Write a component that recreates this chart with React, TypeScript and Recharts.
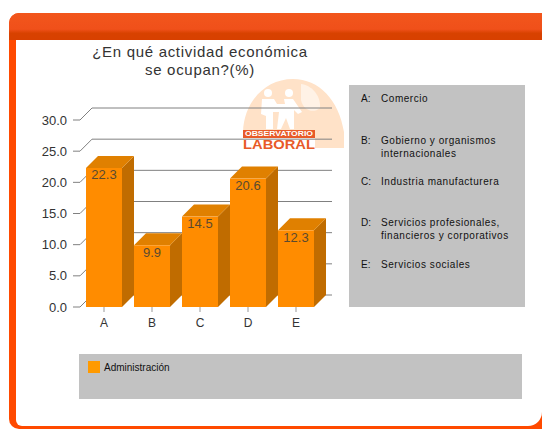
import { BarChart, Bar, XAxis, YAxis, CartesianGrid, LabelList, Legend } from "recharts";

const categories = ["A", "B", "C", "D", "E"];
const values = [22.3, 9.9, 14.5, 20.6, 12.3];
const seriesName = "Administración";
const yTicks = [0, 5, 10, 15, 20, 25, 30];
const titleLines = ["¿En qué actividad económica", "se ocupan?(%)"];
const notes = [
  { key: "A:", lines: ["Comercio"], top: 92 },
  { key: "B:", lines: ["Gobierno y organismos", "internacionales"], top: 134 },
  { key: "C:", lines: ["Industria manufacturera"], top: 175 },
  { key: "D:", lines: ["Servicios profesionales,", "financieros y corporativos"], top: 216 },
  { key: "E:", lines: ["Servicios sociales"], top: 258 },
];

const data = categories.map((c, i) => ({ name: c, value: values[i] }));

const DX = 12;
const DY = 12;
const FONT = "'Liberation Sans', Arial, sans-serif";

function Box3D({ x, y, width, height }: any) {
  return (
    <g>
      <path d={`M${x + width} ${y}l${DX} ${-DY}v${height}l${-DX} ${DY}z`} fill="#c06c00" />
      <path d={`M${x} ${y}l${DX} ${-DY}h${width}l${-DX} ${DY}z`} fill="#e08000" />
      <rect x={x} y={y} width={width} height={height} fill="#ff8c00" />
    </g>
  );
}

// gridline runs up the back wall, then across it
function BackLine({ x1, y1, x2 }: any) {
  return (
    <path
      d={`M${x1} ${y1}l${DX} ${-DY}H${x2 + DX}`}
      fill="none"
      stroke="#808080"
      strokeWidth={1}
    />
  );
}

function Logo() {
  return (
    <svg width={110} height={85} style={{ position: "absolute", left: 235, top: 70 }}>
      <path d="M8 62C9 32 30 9 58 9C84 9 104 30 109 62L109 78H80V60z" fill="#ffe2c8" />
      <path d="M66 14C76 15 86 25 85 38C78 44 68 40 66 30z" fill="#fff2e6" />
      <circle cx="33" cy="23" r="4" fill="#fff" />
      <circle cx="54" cy="23" r="4" fill="#fff" />
      <path d="M27 29h12l3 5h8l-1-5h9l9 13-4 2-4-4v19h-4l-4-11-5 11h-4l2-17h-6v17H31V46l-5-2z" fill="#fff" />
      <rect x="8" y="60" width="72" height="8" fill="#e85a28" />
      <text x="44" y="66.3" fontFamily={FONT} fontSize={8} fontWeight={700} fill="#fff" textAnchor="middle" textLength={68} lengthAdjust="spacingAndGlyphs">
        OBSERVATORIO
      </text>
      <text x="44" y="79" fontFamily={FONT} fontSize={12} fontWeight={700} fill="#e85a28" textAnchor="middle" textLength={72} lengthAdjust="spacingAndGlyphs">
        LABORAL
      </text>
    </svg>
  );
}

function LegendRow() {
  return (
    <div style={{ display: "flex", alignItems: "center", fontFamily: FONT, fontSize: 10, color: "#111" }}>
      <span style={{ width: 12, height: 12, background: "#ff9a00", marginRight: 4 }} />
      {seriesName}
    </div>
  );
}

export default function App() {
  return (
    <div style={{ position: "fixed", left: 0, top: 0, width: 542, height: 430, overflow: "hidden", background: "#fff" }}>
      {/* frame */}
      <div style={{ position: "absolute", left: 9, top: 13, width: 580, height: 416, borderRadius: 10, background: "#ff4a00" }} />
      <div
        style={{
          position: "absolute",
          left: 9,
          top: 13,
          width: 580,
          height: 27,
          borderRadius: "10px 10px 0 0",
          background: "linear-gradient(#f2561c 0%, #f0501a 60%, #d84200 75%, #d84000 100%)",
        }}
      />
      <div style={{ position: "absolute", left: 16, top: 40, width: 526, height: 386, borderRadius: "0 0 14px 6px", background: "#fff" }} />
      <Logo />

      {/* note panel */}
      <div style={{ position: "absolute", left: 349, top: 85, width: 176, height: 222, background: "#c2c2c2" }} />
      {notes.map((n) => (
        <div key={n.key} style={{ position: "absolute", left: 361, top: n.top, fontFamily: FONT, fontSize: 10, lineHeight: "13px", color: "#111" }}>
          <span style={{ position: "absolute", left: 0, top: 0 }}>{n.key}</span>
          <div style={{ marginLeft: 20, whiteSpace: "nowrap", letterSpacing: 0.55 }}>
            {n.lines.map((l) => (
              <div key={l}>{l}</div>
            ))}
          </div>
        </div>
      ))}

      {/* legend panel */}
      <div style={{ position: "absolute", left: 79, top: 354, width: 443, height: 45, background: "#c2c2c2" }} />

      {/* title */}
      <div style={{ position: "absolute", left: 50, top: 43, width: 300, textAlign: "center", fontFamily: FONT, fontSize: 15, lineHeight: "18px", letterSpacing: 0.7, color: "#333" }}>
        {titleLines.map((l) => (
          <div key={l}>{l}</div>
        ))}
      </div>

      <BarChart
        width={542}
        height={430}
        data={data}
        margin={{ top: 120, right: 222, bottom: 93, left: 0 }}
        barCategoryGap={6}
        style={{ position: "absolute", left: 0, top: 0 }}
      >
        <CartesianGrid vertical={false} horizontal={(p: any) => <BackLine key={p.y1} {...p} />} />
        <XAxis
          dataKey="name"
          axisLine={false}
          tickLine={{ stroke: "#999" }}
          tickSize={5}
          tick={{ fontSize: 12, fontFamily: FONT, fill: "#333" }}
          tickMargin={6}
        />
        <YAxis
          width={80}
          domain={[0, 30]}
          ticks={yTicks}
          axisLine={false}
          tickLine={{ stroke: "#808080" }}
          tickSize={7}
          tickMargin={6}
          tick={{ fontSize: 13, fontFamily: FONT, fill: "#333" }}
          tickFormatter={(v: number) => v.toFixed(1)}
        />
        <Legend
          layout="horizontal"
          verticalAlign="middle"
          wrapperStyle={{ left: 88, top: 361, width: 200, height: 14 }}
          content={() => <LegendRow />}
        />
        <Bar dataKey="value" name={seriesName} barSize={36} shape={<Box3D />} isAnimationActive={false}>
          <LabelList
            dataKey="value"
            position="insideTop"
            offset={2}
            fontSize={13}
            fontFamily={FONT}
            fill="#5a4a30"
            formatter={(v: number) => v.toFixed(1)}
          />
        </Bar>
      </BarChart>
    </div>
  );
}
